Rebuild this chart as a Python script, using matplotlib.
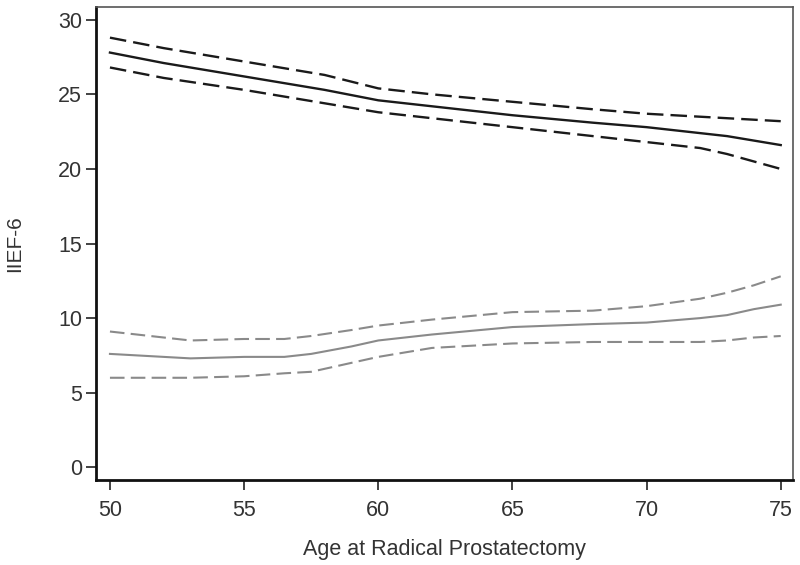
import matplotlib
matplotlib.use('Agg')
import matplotlib.pyplot as plt

plt.rcParams['font.family'] = ['Liberation Sans', 'DejaVu Sans']

# upper group (black)
age_top = [50, 52, 55, 58, 60, 62, 65, 68, 70, 72, 73, 75]
top_mid = [27.8, 27.1, 26.2, 25.3, 24.6, 24.2, 23.6, 23.1, 22.8, 22.4, 22.2, 21.6]
top_hi = [28.8, 28.1, 27.2, 26.3, 25.4, 25.0, 24.5, 24.0, 23.7, 23.5, 23.4, 23.2]
top_lo = [26.8, 26.1, 25.3, 24.4, 23.8, 23.4, 22.8, 22.2, 21.8, 21.4, 21.0, 20.0]

# lower group (gray)
age_bot = [50, 51, 53, 55, 56.5, 57.5, 59, 60, 62, 65, 68, 70, 72, 73, 74, 75]
bot_mid = [7.6, 7.5, 7.3, 7.4, 7.4, 7.6, 8.1, 8.5, 8.9, 9.4, 9.6, 9.7, 10.0, 10.2, 10.6, 10.9]
bot_hi = [9.1, 8.9, 8.5, 8.6, 8.6, 8.8, 9.2, 9.5, 9.9, 10.4, 10.5, 10.8, 11.3, 11.7, 12.2, 12.8]
bot_lo = [6.0, 6.0, 6.0, 6.1, 6.3, 6.4, 7.0, 7.4, 8.0, 8.3, 8.4, 8.4, 8.4, 8.5, 8.7, 8.8]

fig = plt.figure(figsize=(8, 5.65), dpi=100)
ax = fig.add_axes([0.12, 0.150, 0.871, 0.838])

dash = (0, (7, 3))
ax.plot(age_top, top_mid, color='#1a1a1a', lw=1.7)
ax.plot(age_top, top_hi, color='#1a1a1a', lw=1.7, ls=dash)
ax.plot(age_top, top_lo, color='#1a1a1a', lw=1.7, ls=dash)

ax.plot(age_bot, bot_mid, color='#8a8a8a', lw=1.5)
ax.plot(age_bot, bot_hi, color='#8a8a8a', lw=1.5, ls=dash)
ax.plot(age_bot, bot_lo, color='#8a8a8a', lw=1.5, ls=dash)

ax.set_xlim(49.48, 75.45)
ax.set_ylim(-0.87, 30.87)
ax.set_xticks([50, 55, 60, 65, 70, 75])
ax.set_yticks([0, 5, 10, 15, 20, 25, 30])

ax.tick_params(direction='out', length=7, width=1.2, colors='#222222',
               labelsize=15.5, labelcolor='#333333')
ax.tick_params(axis='x', pad=7)
ax.tick_params(axis='y', pad=3)

for s in ['left', 'bottom']:
    ax.spines[s].set_linewidth(2.0)
    ax.spines[s].set_color('#111111')
for s in ['top', 'right']:
    ax.spines[s].set_linewidth(1.2)
    ax.spines[s].set_color('#555555')

ax.set_xlabel('Age at Radical Prostatectomy', fontsize=15.5, color='#333333')
ax.set_ylabel('IIEF-6', fontsize=15, color='#333333')
ax.xaxis.set_label_coords(0.5, -0.125)
ax.yaxis.set_label_coords(-0.103, 0.5)

fig.savefig('out.png', dpi=100)
